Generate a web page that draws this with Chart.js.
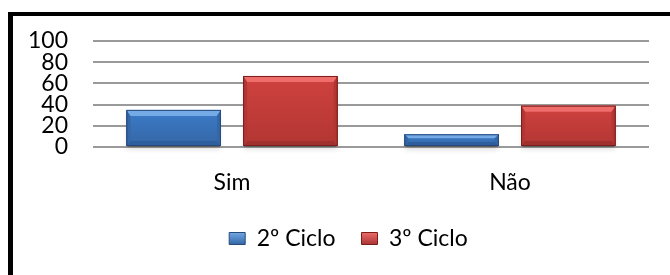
<!DOCTYPE html>
<html>
<head>
<meta charset="utf-8">
<script src="https://cdn.jsdelivr.net/npm/chart.js@4"></script>
<style>
  html, body { margin: 0; padding: 0; background: #fff; }
  #wrap { position: relative; width: 670px; height: 275px; overflow: hidden; }
  #frame {
    position: absolute; left: 8px; top: 12px; width: 700px; height: 300px;
    border-top: 4px solid #000; border-left: 5px solid #000;
  }
  #c { position: absolute; left: 0; top: 0; }
</style>
</head>
<body>
<div id="wrap">
  <div id="frame"></div>
  <canvas id="c" width="670" height="275"></canvas>
</div>
<script>
// Sim / Não by cycle
const categories = ["Sim", "Não"];
const ciclo2 = [35, 12];
const ciclo3 = [67, 39];
const yTicks = [0, 20, 40, 60, 80, 100];

const FONT = "Lato, 'Open Sans', sans-serif";
const FSIZE = 23;

const palette = {
  blue: { base: "#3b7bc8", light: "#74aae6", dark: "#2d5f9e", side: "#3567a6", line: "#254a7a" },
  red:  { base: "#cf423f", light: "#ef6e6b", dark: "#a12f2d", side: "#b23633", line: "#7a1e1c" },
};

function legendFill(ctx, p) {
  const g = ctx.createLinearGradient(0, 232, 0, 246);
  g.addColorStop(0, p.light);
  g.addColorStop(1, p.dark);
  return g;
}

// the legend in the original sits a little right of the plot centre
const legendShift = {
  id: "legendShift",
  afterLayout(chart) {
    chart.legend.left += 24;
    chart.legend.right += 24;
  },
};

function quad(ctx, pts, color) {
  ctx.fillStyle = color;
  ctx.beginPath();
  ctx.moveTo(pts[0], pts[1]);
  for (let k = 2; k < pts.length; k += 2) ctx.lineTo(pts[k], pts[k + 1]);
  ctx.closePath();
  ctx.fill();
}

// bevel + drop shadow on top of the plain bars
const bevel = {
  id: "bevel",
  beforeDatasetsDraw(chart) {
    const ctx = chart.ctx;
    chart.data.datasets.forEach((ds, i) => {
      chart.getDatasetMeta(i).data.forEach((bar) => {
        const { x, y, base, width } = bar.getProps(["x", "y", "base", "width"], true);
        ctx.save();
        ctx.shadowColor = "rgba(0,0,0,0.4)";
        ctx.shadowBlur = 5;
        ctx.shadowOffsetY = 3;
        ctx.fillStyle = "rgba(0,0,0,0.3)";
        ctx.fillRect(x - width / 2 + 1, y + 2, width - 2, base - y - 1);
        ctx.restore();
      });
    });
  },
  afterDatasetsDraw(chart) {
    const ctx = chart.ctx;
    chart.data.datasets.forEach((ds, i) => {
      const p = ds.pal;
      chart.getDatasetMeta(i).data.forEach((bar) => {
        const { x, y, base, width } = bar.getProps(["x", "y", "base", "width"], true);
        const l = x - width / 2, r = x + width / 2, t = y, b = base;
        const h = b - t;
        const bt = Math.min(6, h / 3), bb = Math.min(5, h / 3), bs = 4;
        ctx.save();
        // face
        const g = ctx.createLinearGradient(0, t, 0, b);
        g.addColorStop(0, p.base);
        g.addColorStop(1, p.side);
        ctx.fillStyle = g;
        ctx.fillRect(l, t, width, h);
        // bevel bands
        quad(ctx, [l, t, r, t, r - bs, t + bt, l + bs, t + bt], p.light);
        quad(ctx, [l, b, r, b, r - bs, b - bb, l + bs, b - bb], p.dark);
        quad(ctx, [l, t, l + bs, t + bt, l + bs, b - bb, l, b], p.side);
        quad(ctx, [r, t, r - bs, t + bt, r - bs, b - bb, r, b], p.side);
        // outline
        ctx.strokeStyle = p.line;
        ctx.lineWidth = 1;
        ctx.strokeRect(l + 0.5, t + 0.5, width - 1, h - 1);
        ctx.restore();
      });
    });
  },
};

const ctx = document.getElementById("c").getContext("2d");
new Chart(ctx, {
  type: "bar",
  data: {
    labels: categories,
    datasets: [
      { label: "2º Ciclo", data: ciclo2, backgroundColor: palette.blue.base, pal: palette.blue },
      { label: "3º Ciclo", data: ciclo3, backgroundColor: palette.red.base, pal: palette.red },
    ],
  },
  options: {
    responsive: false,
    animation: false,
    layout: { padding: { top: 41, right: 21, bottom: 15, left: 0 } },
    datasets: { bar: { categoryPercentage: 0.84, barPercentage: 0.81 } },
    plugins: {
      tooltip: { enabled: false },
      legend: {
        position: "bottom",
        labels: {
          font: { family: FONT, size: FSIZE },
          color: "#000",
          boxWidth: 16,
          boxHeight: 12,
          padding: 26,
          generateLabels(chart) {
            return chart.data.datasets.map((ds, i) => ({
              text: ds.label,
              fillStyle: legendFill(chart.ctx, ds.pal),
              strokeStyle: ds.pal.line,
              lineWidth: 1,
              fontColor: "#000",
              datasetIndex: i,
            }));
          },
        },
      },
    },
    scales: {
      x: {
        grid: { display: false, drawTicks: false },
        border: { display: false },
        afterFit(scale) { scale.height = 54; },
        ticks: { font: { family: FONT, size: FSIZE }, color: "#000", padding: 22 },
      },
      y: {
        min: 0,
        max: 100,
        afterBuildTicks(scale) { scale.ticks = yTicks.map((v) => ({ value: v })); },
        afterFit(scale) { scale.width = 93; },
        grid: { color: "#9a9a9a", lineWidth: 2, drawTicks: false },
        border: { display: false },
        ticks: { font: { family: FONT, size: FSIZE }, color: "#000", padding: 25, autoSkip: false },
      },
    },
  },
  plugins: [bevel, legendShift],
});
</script>
</body>
</html>
